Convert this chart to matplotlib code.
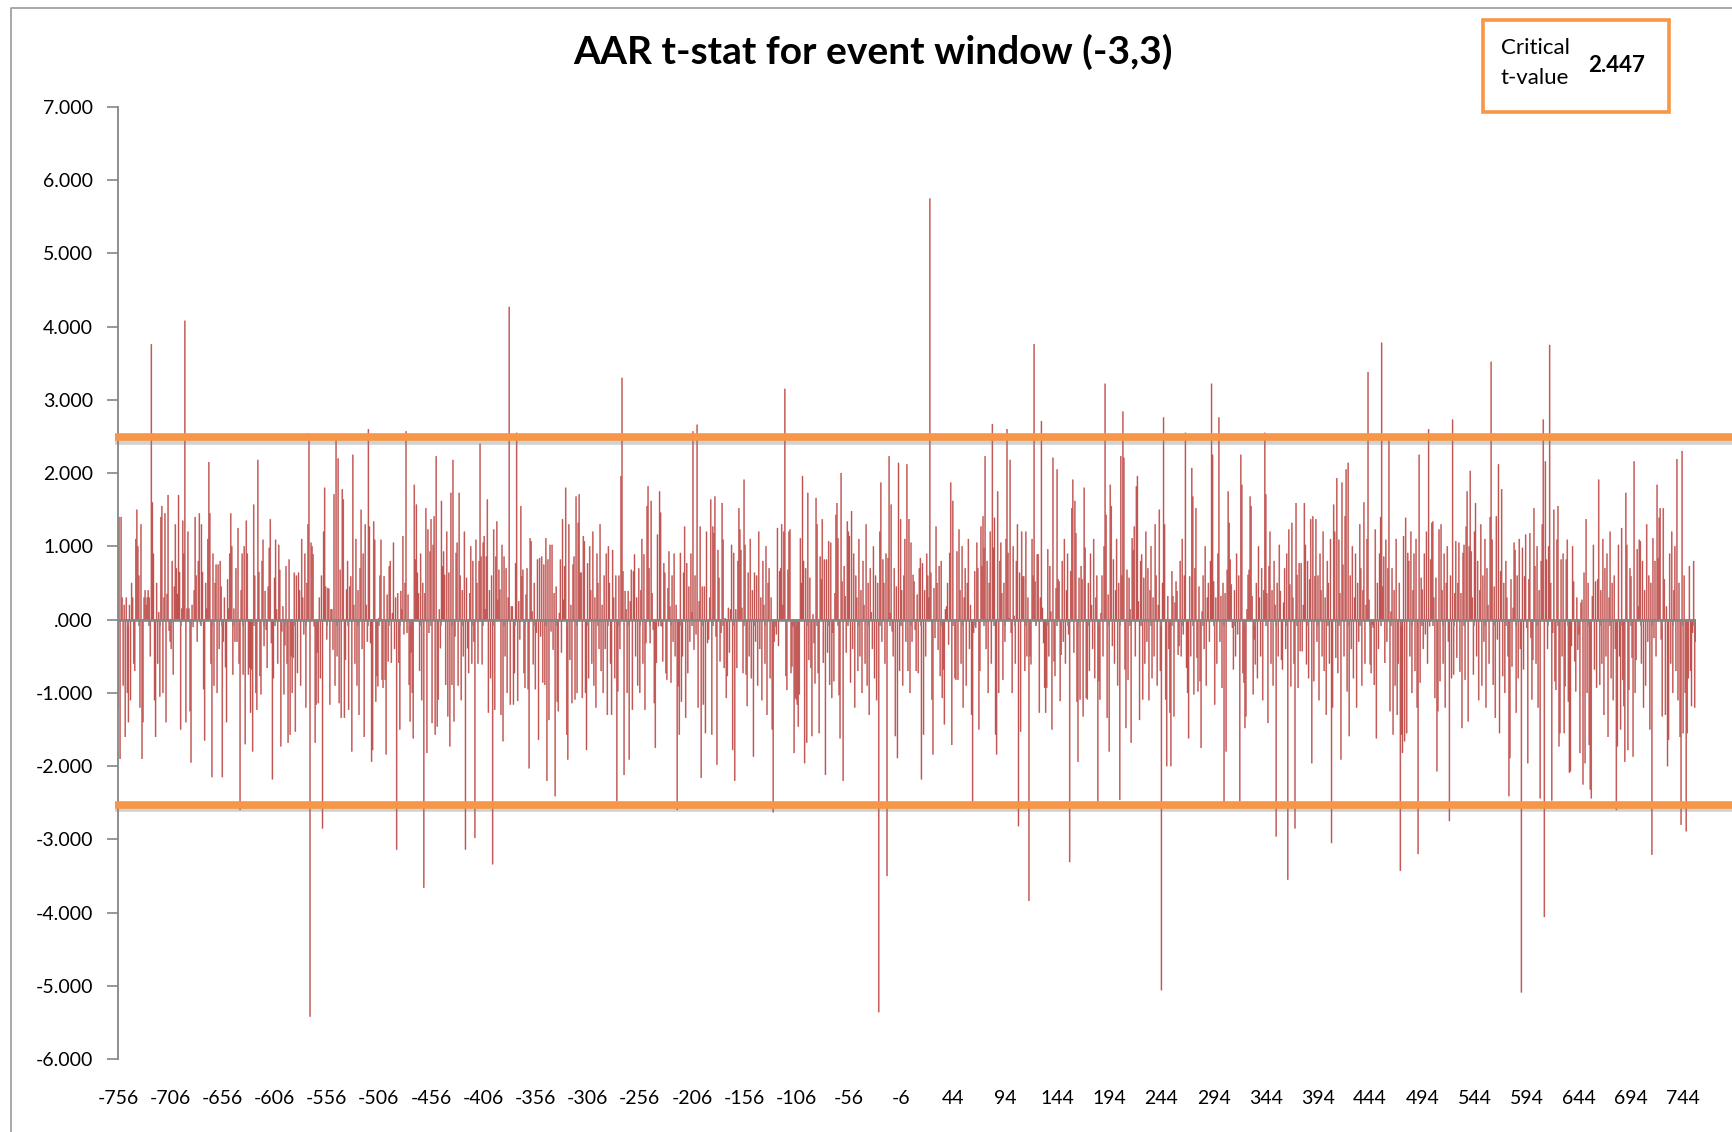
import numpy as np
import matplotlib
matplotlib.use("Agg")
import matplotlib.pyplot as plt
import matplotlib.patheffects as pe
from matplotlib.transforms import blended_transform_factory
from matplotlib.patches import Rectangle
from matplotlib.lines import Line2D

plt.rcParams['font.family'] = ['Lato', 'DejaVu Sans']

# ---------------- data ----------------
title = "AAR t-stat for event window (-3,3)"
box_label_1 = "Critical"
box_label_2 = "t-value"
critical_t = 2.447
upper_band = 2.49
lower_band = -2.53
first_day = -756
x_label_days = list(range(-756, 757, 50))
minor_tick_days = list(range(-746, 757, 10))
y_ticks = list(range(-6, 8))

# AAR t-statistics, day -756 .. 756 (in 12 stretches)
aar_t_seg01 = [-1.2, 1.4, -1.9, 1.4, 0.3, -0.9, 0.2, -1.6, 0.3, -1.0, -1.4, 0.2, -1.1, 0.5, 0.3, -0.6, -0.7, 1.1, 1.5, 1.0,
               0.6, -1.2, 1.3, -1.9, -1.4, 0.3, 0.4, 0.2, 0.3, 0.4, 0.3, -0.5, 3.76, 1.6, 0.9, -1.1, -1.6, 0.5, -0.6, 0.1,
               -1.05, 1.4, 1.55, -1.0, 0.3, 1.45, -1.4, 0.35, 1.7, -0.15, -0.3, -0.4, 0.8, -0.75, 0.45, 1.3, 0.7, 0.35,
               1.7, 0.65, -1.5, 0.15, 1.35, 0.9, 4.08, -1.4, 0.15, 1.2, 0.15, -1.25, -1.95, 0.2, -0.1, 0.4, 1.4, 0.6, -0.3,
               0.8, 1.45, -0.05, 1.3, 0.65, -0.95, -1.65, 0.5, 0.15, 1.1, 2.15, 1.45, -0.6, -2.15, 0.9, -0.9, 0.5, 0.75,
               -1.0, 0.75, -0.4, 0.8, 0.45, -2.15, -0.3, 0.3, -0.65, -1.4, 0.55, 0.15, 0.9, 1.45, 1.0, -0.75, 0.15, -0.3,
               0.7, -0.3, 1.25, -0.6, -2.6, 0.4, 0.9, -0.75, 1.0, -1.7, 1.35, 0.9, -0.75]
aar_t_seg02 = [-0.66, -1.27, -0.68, -1.8, 1.57, 0.6, -1.0, -1.23, 2.18, 0.65, -0.77, -1.02, 0.8, 1.09, -0.36, 0.39, -0.14,
               -0.66, 0.45, 0.98, 1.37, -0.32, -2.18, -0.8, 0.57, 1.09, 0.14, -0.6, 1.02, 0.68, -1.73, -0.16, 0.18, -1.02,
               -0.35, 0.73, -0.6, -1.68, 0.82, -1.57, -0.5, -1.0, -0.52, 0.64, -1.53, 0.6, -0.73, 0.64, 0.4, -0.9, 1.1,
               0.3, -0.2, 0.9, -1.2, 0.5, 1.3, 2.54, -5.42, 1.05, 1.0, 0.89, -0.09, -1.68, -1.16, -0.45, -1.14, 0.3, -0.8,
               0.6, -2.85, 1.2, 1.8, 0.45, -0.27, 0.43, 0.42, -1.16, 0.14, 0.14, -0.41, 1.71, -0.9, 2.45, -0.5, 2.2,
               -1.14, 0.68, -1.34, 1.78, 1.64, -1.34, -0.55, 0.41, 0.8, -1.23, 0.45, 0.59, -1.8, 2.25, 0.2, -0.6, 1.1,
               -0.9, 0.4, -1.3, 0.7, 1.5, -0.4, 0.9, -1.6, 1.3, 0.2, -0.3, 2.6, 1.27, -0.32, -1.94, -1.78, 1.34, 1.09,
               -1.12, -0.77, -0.91, 0.02, 0.6]
aar_t_seg03 = [1.09, -0.82, -0.93, 0.59, -0.82, -1.84, 0.34, -0.57, 0.73, 0.8, -0.59, 0.09, 1.05, -0.4, 0.3, -3.14, 0.36,
               -0.59, -1.5, 0.39, 0.14, 1.14, -0.2, 0.5, 2.57, -0.18, 0.34, -0.89, -1.39, -0.45, -1.0, -1.62, 1.84, 0.82,
               1.57, 0.64, 0.36, -0.7, 0.9, -1.1, 0.5, -3.66, 0.36, 1.52, -1.82, 1.23, -0.18, 0.93, 1.37, -1.41, 1.02,
               1.41, -1.57, 2.23, -1.46, -1.09, 0.14, -0.39, 1.62, 0.73, 0.93, 0.61, -0.89, 1.2, -1.32, 0.64, -1.73, 1.73,
               -0.89, 2.18, -1.39, -0.23, 0.91, 1.05, -0.9, 1.73, 0.6, -1.1, 0.4, -0.5, 1.2, -3.14, 0.57, -0.39, -0.73,
               0.36, 1.0, -0.6, 0.8, -0.3, -2.98, 1.09, 0.5, -0.6, 0.8, 2.4, 0.86, -0.61, 1.05, 1.14, 0.14, 0.86, 1.64,
               -1.27, 0.4, -0.8, 0.6, -3.34, 1.23, -1.23, 0.86, 1.34, 0.27, 0.68, 0.41, -1.3, 1.02, -1.66, 0.86, -0.5,
               0.7, -1.0, 0.3, 4.27, -1.16, 0.18]
aar_t_seg04 = [0.18, -1.16, -0.73, 0.77, 2.55, -1.11, 0.25, -0.27, 1.55, 0.59, 0.68, -0.73, -0.93, 0.34, 0.7, -0.95, -2.03,
               1.11, 1.07, 0.11, -0.61, 0.5, -0.95, -0.18, 0.82, -1.64, 0.84, -0.23, 0.86, -0.86, 0.75, -0.89, 1.11, -2.2,
               0.82, -1.37, 1.02, -0.16, 1.02, -0.41, 0.36, -2.41, 0.45, -1.12, -1.25, 0.09, 0.82, -0.45, 1.37, 0.27,
               0.73, 1.8, -1.57, -1.91, 1.30, -0.55, 0.2, -1.14, 0.75, 0.86, -1.09, 1.68, -1.0, 1.32, 1.71, 0.64, 0.64,
               -1.07, 1.14, 1.07, -1.0, -1.78, 0.77, -0.8, 1.0, 0.4, -0.6, 1.2, -0.9, 0.3, -1.2, 0.9, 0.5, -0.4, 1.3, -0.7,
               0.2, -1.0, 0.6, -0.4, 0.9, -1.3, 1.0, 0.5, -0.6, -1.3, 0.95, 0.3, -0.8, 0.6, -2.48, -0.98, 0.6, -0.4, 1.96,
               3.3, 0.66, -2.12, 0.39, 0.14, -1.0, 0.39, -1.91, 0.25, 0.68, -1.23, 0.66, 0.89, -0.5, 0.3, -0.9, 0.7, -1.0,
               0.4, 1.1, -0.6]
aar_t_seg05 = [0.89, -1.23, -0.32, 1.55, 1.82, 0.7, -0.32, 1.62, 0.36, -0.14, -1.14, -1.75, -0.59, 1.16, -0.09, 1.75, 1.46,
               -0.09, -0.57, 0.77, 0.64, -0.73, -0.82, 0.43, 0.93, 0.18, -0.86, 0.6, -0.3, 0.9, -0.5, 0.2, -2.6, -0.91,
               -1.57, 0.91, -1.12, -0.5, 0.64, 1.27, -1.34, 0.77, -0.73, 0.45, -0.3, 0.9, 0.1, 2.57, -0.41, 0.6, -0.2,
               2.66, -1.2, 0.25, 1.27, -2.16, 0.45, -1.16, 0.45, -1.55, 1.2, -0.32, -0.27, 0.3, 1.64, -1.57, 1.27, 1.18,
               1.68, -0.23, -1.98, 0.95, 0.57, -0.57, -0.18, 1.59, 1.09, -0.66, 0.02, -1.07, -0.77, 0.16, -0.45, 0.14,
               1.02, -1.78, 0.91, -2.2, 0.14, -0.66, 0.8, 1.52, 1.23, 0.95, 0.16, -0.73, 1.91, 1.02, -0.75, -1.18, 0.64,
               -0.5, 1.1, -0.8, 0.4, -1.87, 0.64, -0.3, 0.6, -0.9, 1.2, -0.4, 0.3, -1.1, 0.8, 0.2, -0.6, 1.0, -1.3, 0.5,
               0.7, -0.8, 0.3, -1.5, -2.63, -0.3]
aar_t_seg06 = [-0.09, -0.2, 1.25, -0.36, 0.66, 0.7, 1.3, 0.2, 1.2, 3.15, -0.77, -0.96, 0.68, 1.2, 1.23, -0.73, -0.64, -0.09,
               -1.82, -1.07, -1.09, -1.16, -1.46, -1.02, 1.11, 0.5, 1.96, 0.8, -1.96, 0.7, -1.68, 1.73, -0.55, 0.57, -0.66,
               -1.59, 0.07, -0.32, -0.87, 1.66, 1.3, -0.73, -1.55, 0.86, 0.55, 1.37, -0.59, 0.82, -2.12, 0.82, -0.45,
               1.07, -0.89, 1.05, -1.07, -0.18, -0.84, 0.36, 1.43, 1.59, 1.11, -1.03, -1.62, 2.0, 0.52, -2.2, 0.73, 0.32,
               -0.45, 1.34, 1.2, 1.14, -0.86, 1.48, -0.4, 0.9, -1.2, 0.6, 0.3, -0.7, 1.1, -0.5, 0.4, -1.0, 0.8, 0.2, -0.6,
               1.3, -0.9, 0.5, -1.3, 0.7, 0.1, -0.4, 1.0, -0.8, 0.6, -1.1, 0.5, -5.36, 1.2, 1.87, -0.3, 0.82, 0.5, -0.6,
               0.9, -3.5, 0.84, 2.23, 0.09, 1.57, -0.16, -0.5, 0.7, -1.59, 0.45, -1.89, 2.14, -0.7, 1.37, 0.4, -0.9, 0.6,
               1.1, -0.3]
aar_t_seg07 = [2.12, -0.7, 1.37, -1.0, 1.05, -0.3, 0.61, 0.52, -0.14, -0.7, 0.34, -0.73, 0.7, 0.84, -2.18, 0.77, -1.57,
               0.4, -0.5, 0.9, 0.6, 0.3, 5.75, 0.64, -1.09, -1.84, 0.43, -0.25, 1.27, 0.5, -0.41, 0.73, -0.77, 0.8, -1.07,
               -0.68, -1.43, 0.14, 0.18, 0.5, -0.34, 0.91, 1.87, -1.71, 1.62, 0.0, -0.8, -0.82, 0.93, -0.82, 1.23, 0.4,
               -0.6, 1.0, -1.2, 0.3, 0.7, -0.9, 0.5, 1.1, -0.4, 0.2, -1.3, -2.5, -0.18, 0.66, -0.11, 1.05, 0.7, -1.5, -0.7,
               1.27, 0.73, 1.41, 0.98, 2.23, -0.4, 0.8, -1.0, 0.5, 1.2, -0.6, 2.67, 0.98, 1.39, -1.57, -1.84, 1.75, -1.0,
               0.8, 1.05, 0.36, -0.82, 0.5, -0.3, 1.1, 2.6, 0.91, 0.02, 2.18, -0.18, -1.0, 1.0, 0.05, -0.6, 0.8, 1.3,
               -2.82, 0.64, -1.53, 1.2, 0.59, 0.59, -0.7, 1.2, -0.5, 0.3, -3.84, -0.5, -0.61, 1.1, 0.6, 3.76, 0.52, -0.07,
               0.89]
aar_t_seg08 = [0.89, -1.27, 0.3, 2.71, 0.16, -0.32, -0.93, -1.27, -0.93, 0.96, -0.5, 0.73, 0.11, -1.5, 2.21, -0.57, -0.77,
               0.43, 2.05, 0.55, 0.52, -1.11, -0.48, 0.8, -0.3, 1.1, -0.6, 0.4, 0.9, -0.2, -3.31, 0.66, 1.52, 1.91, -0.45,
               1.62, 1.18, -1.12, -1.94, 0.57, -1.09, 0.73, 0.55, -1.32, 1.8, 0.98, -1.07, -1.09, 0.5, -0.7, 0.9, 0.2,
               -0.4, 1.1, -0.8, 0.3, 0.6, -2.55, -0.84, -1.09, 0.09, 0.6, -0.5, 1.0, 3.22, 1.43, -1.34, 0.34, -1.8, 1.84,
               1.55, -0.36, 0.82, -0.6, 0.4, 1.1, -0.9, 0.5, -2.46, 2.23, 0.6, 2.84, 2.21, -0.68, -1.48, 0.68, -0.82, 0.57,
               0.14, -1.68, 1.11, 0.95, 1.27, -0.5, 1.82, 1.96, 0.25, -1.37, 0.8, 0.89, -1.09, 0.57, -0.6, 1.2, -0.3, 0.7,
               -1.1, 0.4, 1.0, -0.8, 0.3, -0.5, 1.3, 0.6, -0.9, 0.2, 1.5, -0.7, -5.06, 0.5, 2.76, 1.3, -1.09, -2.0, 0.32,
               -0.4]
aar_t_seg09 = [-1.27, -2.0, 0.66, 0.32, -1.32, 0.23, 0.52, 0.39, -0.48, -0.36, 0.8, -0.5, 1.1, -0.2, 0.6, 2.55, -0.66,
               -1.0, -1.62, 0.59, -0.5, 2.07, 1.68, -1.02, 0.7, 1.52, -0.52, -0.98, 0.45, -0.84, -1.75, 0.11, 0.6, -0.4,
               1.0, -0.9, 0.3, 0.5, -0.3, 0.8, 3.22, 2.25, 0.52, -1.16, 0.3, -0.6, 0.9, 2.76, -0.3, 0.32, -0.93, 0.5,
               -2.57, 0.36, -1.8, 0.68, 1.75, 1.32, 0.82, 0.48, -0.11, -0.68, 0.4, -0.5, 0.9, -0.2, 0.6, -2.48, 2.25,
               1.84, -0.73, -0.86, -1.48, -1.32, 0.14, 0.61, 0.68, 1.68, 1.55, 0.32, -1.02, -0.27, -0.61, 0.5, -0.8, 1.0,
               0.3, -0.5, 0.7, -1.1, 0.4, 2.55, 1.71, 0.36, -1.41, 0.73, 1.2, -0.6, 0.4, -0.9, 0.8, 0.2, -2.96, 0.5, -0.5,
               1.02, 0.39, -0.55, -0.68, 0.23, 0.7, -0.4, 0.9, -3.55, 1.23, 0.48, -0.91, 1.32, 0.3, -0.6, -2.85, 1.59,
               0.61, -0.93, 0.77, -0.43]
aar_t_seg10 = [0.77, -0.43, 0.2, 1.59, 1.02, -0.61, 0.8, -0.8, 0.55, 1.37, -1.96, 1.41, -0.84, 0.59, 1.37, -0.3, 0.6,
               -1.1, 0.9, 0.4, -0.5, 1.2, -0.7, 0.3, -1.3, 0.8, 0.5, -0.6, 1.1, -3.05, -1.2, 1.57, 1.2, -0.52, 1.93,
               -0.73, 1.09, 0.36, -1.91, 1.87, 0.75, -0.5, 1.41, 2.05, -0.98, 2.14, -1.59, 0.6, -0.4, 1.0, -0.8, 0.3, 0.9,
               -1.2, 0.5, -0.3, 1.3, 0.7, -0.9, 0.4, 1.6, -0.6, 0.2, 1.1, 3.38, 0.27, -0.61, -0.73, -0.07, -0.11, -0.89,
               1.23, -1.62, 0.5, -0.4, 0.9, 1.4, 3.78, 0.45, 0.86, -0.59, 1.09, -0.3, 0.7, 2.44, -1.25, 0.11, 0.7, -1.57,
               0.4, -0.9, 1.1, -1.3, -0.6, 0.5, -3.43, -1.57, -1.82, 1.14, -1.66, 1.39, -1.55, 0.91, 0.8, -0.5, 1.2, -1.0,
               0.4, 0.9, -0.7, 1.1, -1.2, -3.2, 2.25, -0.86, 0.57, 0.41, -0.4, 0.9, -0.2, 1.2, -0.6, 2.6, -0.09, 0.82,
               1.32]
aar_t_seg11 = [1.34, 0.3, -1.07, 0.57, -2.07, -1.25, 1.23, -0.84, 1.3, 0.4, -0.6, 0.9, -1.2, 0.5, 1.0, -0.3, -2.75, 0.6,
               -0.8, 2.73, -0.75, 0.36, 1.07, -0.52, 0.5, 1.05, -0.71, 0.36, -1.48, 0.91, 1.02, -0.82, 1.27, 1.75, -1.39,
               1.0, 2.03, 0.93, 0.3, -0.75, 1.2, 1.59, -0.5, 0.8, -1.1, 0.4, 1.3, -0.9, 0.6, -0.3, 1.1, -1.2, 0.7, 0.2,
               -0.6, 1.4, 3.52, 1.09, -0.89, 0.45, -1.34, 1.41, -0.27, 2.12, -1.55, 0.66, 1.78, -0.77, 0.5, -1.0, 0.8,
               0.3, -0.5, -2.41, -1.89, 0.55, -0.64, 0.16, 1.05, 0.95, -1.27, 0.6, -0.8, 1.1, -0.4, -5.09, 0.98, -0.68,
               0.59, 1.16, -0.11, -1.96, 0.55, 1.18, -0.25, -1.09, -0.55, 1.52, 0.73, -0.6, 1.0, -1.2, 0.4, -2.44, 0.8,
               1.3, 2.73, -4.06, 2.16, 0.82, -0.4, 1.0, 3.75, 0.5, -2.47, -0.18, 1.5, -0.84, -0.96, 1.09, 1.55, -1.73,
               -1.55, 0.82, -0.5, 0.9]
aar_t_seg12 = [-1.55, -0.91, 0.82, 1.09, -1.12, -2.09, -2.07, -0.36, 1.0, 0.52, -0.57, -0.98, 0.3, -0.41, -0.2, -1.82,
               0.23, 0.27, -2.25, 0.64, -1.96, 1.37, -1.0, 0.5, -1.71, -2.32, -2.44, 0.32, 1.02, -0.68, 0.52, -0.93, 0.55,
               1.91, -0.89, 0.4, -0.6, 1.1, -1.3, 0.7, -0.5, 0.9, -1.6, 0.3, 1.2, -0.8, 0.5, -1.1, 0.6, -0.4, -2.6, -1.73,
               1.02, -0.5, -1.5, 1.25, -0.82, -1.18, -1.94, 1.73, 1.02, -1.78, -0.96, 0.7, 0.59, -0.52, -1.87, 2.16, -1.0,
               -0.55, 0.96, 0.18, 1.09, 1.07, -0.6, 0.8, -1.2, 0.4, -0.9, 1.3, -0.3, 0.6, -1.5, 0.5, -3.21, 1.11, -0.25,
               0.8, -0.5, 1.84, 0.84, 1.39, 1.52, -0.27, -1.32, 1.52, 0.55, -1.3, 0.18, -2.0, -1.64, 0.9, -0.6, 1.2, -1.0,
               0.4, 1.0, -0.7, 2.19, -1.1, 0.5, -1.6, -2.8, 2.3, -1.55, 0.6, -1.0, -2.89, -1.55, -0.8, 0.73, -0.7, -1.18,
               -0.18, 0.8, -1.2, -0.3]

aar_t = np.array(aar_t_seg01 + aar_t_seg02 + aar_t_seg03 + aar_t_seg04 + aar_t_seg05 + aar_t_seg06 +
                 aar_t_seg07 + aar_t_seg08 + aar_t_seg09 + aar_t_seg10 + aar_t_seg11 + aar_t_seg12)
days = first_day + np.arange(len(aar_t))


def fmt(v):
    s = f"{v:.3f}"
    return ".000" if v == 0 else s


y_tick_labels = [fmt(v) for v in y_ticks]

# ---------------- figure ----------------
W, H = 1733, 1132
fig = plt.figure(figsize=(W / 100, H / 100), dpi=100)
fig.patch.set_facecolor('white')

ax_left, ax_right, ax_top, ax_bottom = 118, 1696, 107, 1059
ax = fig.add_axes([ax_left / W, 1 - ax_bottom / H, (ax_right - ax_left) / W, (ax_bottom - ax_top) / H])

bar_red = '#C0504D'
bars = ax.bar(days, aar_t, width=0.95, color=bar_red, edgecolor=bar_red, linewidth=0.3, zorder=2)
for b in bars:
    b.set_snap(False)
ax.set_xlim(-756, 756.3)
ax.set_ylim(-6, 7)

grey = '#868686'
ax.axhline(0, color=grey, lw=1.9, zorder=3)
ax.vlines(minor_tick_days, -0.09, 0, color=grey, lw=1.2, zorder=3)

for s in ['top', 'right', 'bottom']:
    ax.spines[s].set_visible(False)
ax.spines['left'].set_color(grey)
ax.spines['left'].set_linewidth(1.3)

ax.set_yticks(y_ticks)
ax.set_yticklabels(y_tick_labels)
ax.tick_params(axis='y', direction='out', length=8, width=1.2, color=grey, labelsize=14, pad=10)
ax.set_xticks(x_label_days)
ax.set_xticklabels([str(d) for d in x_label_days])
ax.tick_params(axis='x', length=0, labelsize=14, pad=22)

# critical value bands
trans = blended_transform_factory(ax.transAxes, ax.transData)
for yv in (upper_band, lower_band):
    ax.plot([-0.002, 1.03], [yv, yv], transform=trans, color='#F79646', lw=5.5, clip_on=False,
            solid_capstyle='butt', zorder=4,
            path_effects=[pe.SimpleLineShadow(offset=(0, -2.5), shadow_color='#808080', alpha=0.35), pe.Normal()])

# title
fig.text(873 / W, 1 - 52 / H, title, ha='center', va='center', fontsize=28, fontweight='bold')

# critical value box
box = Rectangle((1483 / W, 1 - 112 / H), 186 / W, 92 / H, transform=fig.transFigure,
                facecolor='white', edgecolor='#F79646', linewidth=2.6, zorder=5)
fig.patches.append(box)
fig.text(1501 / W, 1 - 47.5 / H, box_label_1, ha='left', va='center', fontsize=16, zorder=6)
fig.text(1501 / W, 1 - 78.5 / H, box_label_2, ha='left', va='center', fontsize=16, zorder=6)
fig.text(1588 / W, 1 - 66 / H, f"{critical_t:.3f}", ha='left', va='center', fontsize=16, fontweight='bold', zorder=6)

# chart-area border (top and left visible)
fig.lines.append(Line2D([11 / W, 11 / W, 1.0], [0.0, 1 - 8 / H, 1 - 8 / H], transform=fig.transFigure,
                        color='#9a9a9a', lw=1.2))

fig.savefig('out.png', dpi=100)
